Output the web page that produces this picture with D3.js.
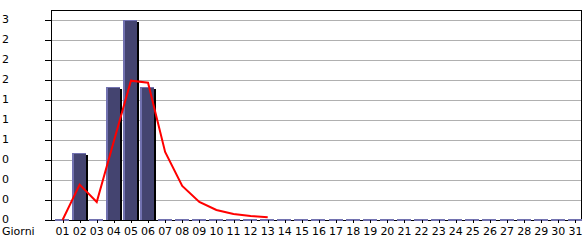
<!DOCTYPE html>
<html>
<head>
<meta charset="utf-8">
<script src="https://cdn.jsdelivr.net/npm/d3@7"></script>
<style>
  body { margin: 0; background: #fff; }
  text { font-family: "DejaVu Sans", sans-serif; font-size: 11px; fill: #000; }
</style>
</head>
<body>
<div id="chart"></div>
<script>
const days = ['01','02','03','04','05','06','07','08','09','10','11','12','13','14','15','16',
              '17','18','19','20','21','22','23','24','25','26','27','28','29','30','31'];
const visits = [0,1,0,2,3,2,0,0,0,0,0,0,0,0,0,0,0,0,0,0,0,0,0,0,0,0,0,0,0,0,0];
const trendDays = ['01','02','03','04','05','06','07','08','09','10','11','12','13'];
const trend = [0,0.53,0.27,1.18,2.09,2.06,1.02,0.51,0.27,0.15,0.09,0.06,0.04];
const yTickValues = [0,0.3,0.6,0.9,1.2,1.5,1.8,2.1,2.4,2.7,3];
const yTickLabels = ['0','0','0','0','1','1','1','2','2','2','3'];
const xTitle = 'Giorni';

var chart = {
  width: 585,
  height: 240,
  left: 51,
  right: 581,
  top: 10,
  bottom: 220,
};

const svg = d3.select('#chart')
              .append('svg')
              .attr('width', chart.width)
              .attr('height', chart.height);

const x = d3.scaleBand()
            .domain(days)
            .range([chart.left + 3, chart.right + 3]);

const y = d3.scaleLinear()
            .domain([0, 3])
            .range([chart.bottom, 20]);

const barData = days.map((day, i) => ({ day: day, value: visits[i] }));

// grid lines
svg.append('g')
   .selectAll('line')
   .data(yTickValues.slice(1))
   .enter()
   .append('line')
   .attr('x1', chart.left)
   .attr('x2', chart.right)
   .attr('y1', d => Math.round(y(d)) + 0.5)
   .attr('y2', d => Math.round(y(d)) + 0.5)
   .attr('stroke', '#b0b0b0')
   .attr('shape-rendering', 'crispEdges');

// frame
svg.append('path')
   .attr('d', `M${chart.left + 0.5},${chart.bottom + 0.5}V${chart.top + 0.5}H${chart.right + 0.5}V${chart.bottom + 0.5}`)
   .attr('fill', 'none')
   .attr('stroke', '#000')
   .attr('shape-rendering', 'crispEdges');

// y ticks + labels
const yAxis = svg.append('g');
yAxis.selectAll('line')
     .data(yTickValues)
     .enter()
     .append('line')
     .attr('x1', chart.left - 6)
     .attr('x2', chart.left)
     .attr('y1', d => Math.round(y(d)) + 0.5)
     .attr('y2', d => Math.round(y(d)) + 0.5)
     .attr('stroke', '#000')
     .attr('shape-rendering', 'crispEdges');
yAxis.selectAll('text')
     .data(yTickValues)
     .enter()
     .append('text')
     .attr('x', 2)
     .attr('y', d => y(d))
     .attr('dy', '0.3em')
     .text((d, i) => yTickLabels[i]);

// bottom axis line
svg.append('line')
   .attr('x1', chart.left)
   .attr('x2', chart.right)
   .attr('y1', chart.bottom + 0.5)
   .attr('y2', chart.bottom + 0.5)
   .attr('stroke', '#000')
   .attr('shape-rendering', 'crispEdges');

// bars
const bar = svg.append('g')
               .selectAll('g')
               .data(barData)
               .enter()
               .append('g')
               .attr('shape-rendering', 'crispEdges');

bar.filter(d => d.value > 0)
   .append('rect')
   .attr('x', d => x(d.day) + 15)
   .attr('y', d => y(d.value) + 2)
   .attr('width', 2)
   .attr('height', d => chart.bottom - y(d.value) - 2)
   .attr('fill', '#000');

bar.append('rect')
   .attr('x', d => x(d.day) + 1)
   .attr('y', d => d.value > 0 ? y(d.value) : chart.bottom - 1)
   .attr('width', 14)
   .attr('height', d => d.value > 0 ? chart.bottom - y(d.value) : 2)
   .attr('fill', '#7272b0');

bar.filter(d => d.value > 0)
   .append('rect')
   .attr('x', d => x(d.day) + 3)
   .attr('y', d => y(d.value) + 1)
   .attr('width', 12)
   .attr('height', d => chart.bottom - y(d.value) - 1)
   .attr('fill', '#444470');

// x ticks + labels
const xAxis = svg.append('g');
xAxis.selectAll('line')
     .data(days)
     .enter()
     .append('line')
     .attr('x1', d => Math.round(x(d) + x.bandwidth() / 2) + 0.5)
     .attr('x2', d => Math.round(x(d) + x.bandwidth() / 2) + 0.5)
     .attr('y1', chart.bottom)
     .attr('y2', chart.bottom + 3)
     .attr('stroke', '#000')
     .attr('shape-rendering', 'crispEdges');
xAxis.selectAll('text')
     .data(days)
     .enter()
     .append('text')
     .attr('x', d => x(d) + x.bandwidth() / 2)
     .attr('y', 235)
     .attr('text-anchor', 'middle')
     .text(d => d);

svg.append('text')
   .attr('x', 2)
   .attr('y', 235)
   .text(xTitle);

// trend line
const line = d3.line()
               .x((d, i) => x(trendDays[i]) + x.bandwidth() / 2)
               .y(d => y(d));

svg.append('path')
   .datum(trend)
   .attr('d', line)
   .attr('fill', 'none')
   .attr('stroke', '#ff0000')
   .attr('stroke-width', 2);
</script>
</body>
</html>
